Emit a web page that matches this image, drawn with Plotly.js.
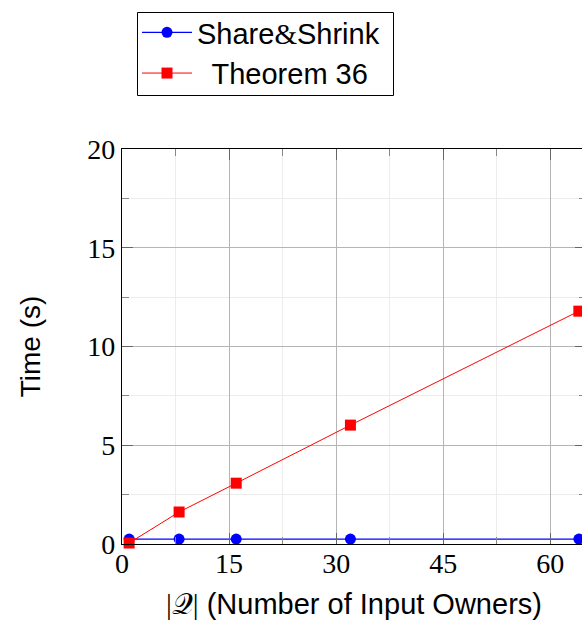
<!DOCTYPE html>
<html>
<head>
<meta charset="utf-8">
<script src="https://cdn.plot.ly/plotly-3.0.1.min.js"></script>
<style>
html,body{margin:0;padding:0;overflow:hidden;background:#fff;}
#chart{width:590px;height:624px;}
</style>
</head>
<body>
<div id="chart"></div>
<script>
const owners = [1, 8, 16, 32, 64];
const shareShrink = [0.25, 0.25, 0.25, 0.25, 0.25];
const theorem36 = [0.05, 1.62, 3.08, 6.02, 11.79];
const xTicks = [0, 15, 30, 45, 60];
const yTicks = [0, 5, 10, 15, 20];
const seriesNames = ['Share<span style="font-family:\'Liberation Serif\'">&amp;</span>Shrink', '\u2002Theorem 36'];

const traces = [
  {
    x: owners, y: shareShrink, name: seriesNames[0],
    type: 'scatter', mode: 'lines+markers', cliponaxis: false,
    line: {color: '#0000ff', width: 1.3},
    marker: {symbol: 'circle', size: 11, color: '#0000ff', line: {width: 0}}
  },
  {
    x: owners, y: theorem36, name: seriesNames[1],
    type: 'scatter', mode: 'lines+markers', cliponaxis: false,
    line: {color: '#ff0000', width: 1},
    marker: {symbol: 'square', size: 11, color: '#ff0000', line: {width: 0}}
  }
];

const axisCommon = {
  showline: true, linecolor: '#000', linewidth: 1.2, mirror: 'ticks',
  ticks: 'inside', ticklen: 11, tickcolor: '#666', tickwidth: 1,
  showgrid: true, gridcolor: '#b5b5b5', gridwidth: 1,
  zeroline: false,
  tickfont: {family: 'Liberation Serif', size: 28, color: '#000'}
};

// plot area in pixels: left 122, right 586, top 149, bottom 544
const plotL = 122, plotR = 586, plotT = 149, plotB = 544;
const px2x = p => (p - plotL) / (plotR - plotL);
const px2y = p => (plotB - p) / (plotB - plotT);

const layout = {
  width: 590, height: 624,
  margin: {l: 122, r: 4, t: 149, b: 80},
  paper_bgcolor: '#fff', plot_bgcolor: '#fff',
  showlegend: true,
  font: {family: 'Liberation Sans', size: 29, color: '#000'},
  xaxis: Object.assign({}, axisCommon, {
    range: [0, 65], tickvals: xTicks, ticktext: xTicks.map(String),
    ticklabelstandoff: -6,
    minor: {dtick: 7.5, tick0: 0, showgrid: true, gridcolor: '#ececec', ticks: 'inside', ticklen: 7, tickcolor: '#888'},
    title: {text: '<span style="font-family:\'Liberation Serif\'">|</span><span style="font-family:\'DejaVu Serif\'">𝒬</span><span style="font-family:\'Liberation Serif\'">|</span> (Number of Input Owners)', font: {family: 'Liberation Sans', size: 29}, standoff: 16}
  }),
  yaxis: Object.assign({}, axisCommon, {
    range: [0, 20], tickvals: yTicks, ticktext: yTicks.map(String),
    minor: {dtick: 2.5, tick0: 0, showgrid: true, gridcolor: '#ececec', ticks: 'inside', ticklen: 7, tickcolor: '#888'},
    title: {text: 'Time (s)', font: {family: 'Liberation Sans', size: 28}, standoff: 38}
  }),
  legend: {
    x: px2x(137), y: px2y(7), xanchor: 'left', yanchor: 'top',
    bgcolor: 'rgba(0,0,0,0)', borderwidth: 0,
    font: {family: 'Liberation Sans', size: 29, color: '#000'},
    itemwidth: 50, tracegroupgap: 0
  },
  shapes: [{
    type: 'rect', xref: 'paper', yref: 'paper', layer: 'below',
    x0: px2x(137.5), x1: px2x(393.5), y0: px2y(95.5), y1: px2y(12.5),
    line: {color: '#000', width: 1}, fillcolor: 'rgba(0,0,0,0)'
  }]
};

Plotly.newPlot('chart', traces, layout, {displayModeBar: false, staticPlot: true});
</script>
</body>
</html>
